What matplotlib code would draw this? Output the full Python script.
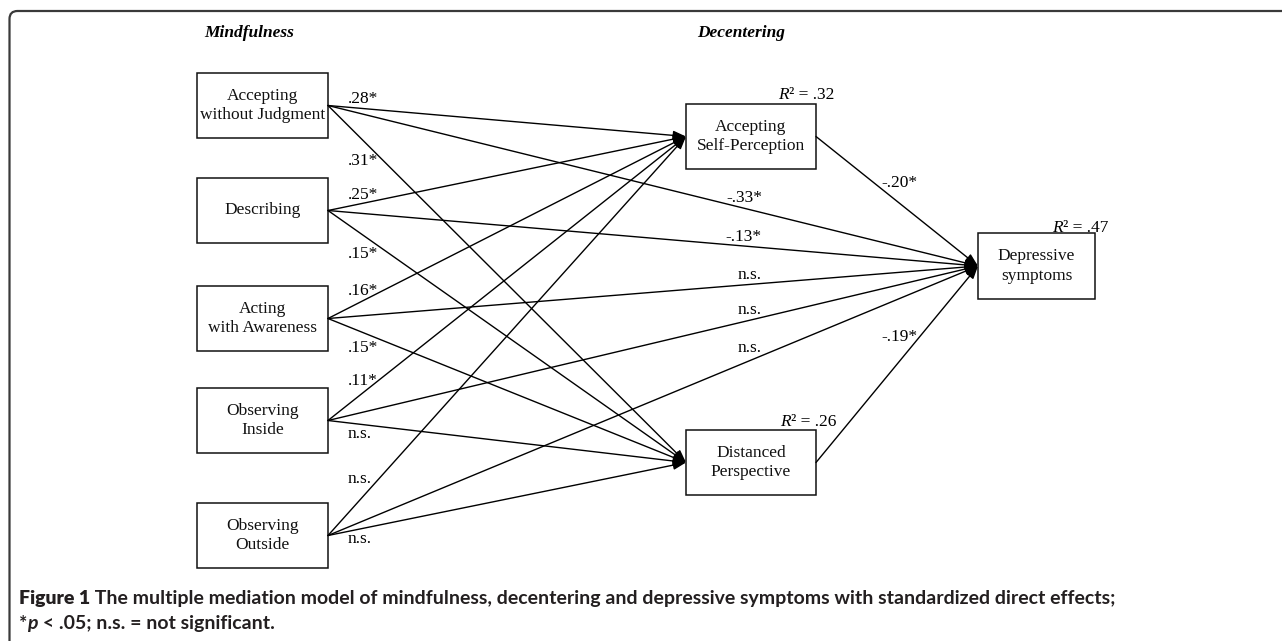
import matplotlib
matplotlib.use("Agg")
import matplotlib.pyplot as plt
from matplotlib.patches import Rectangle, PathPatch
from matplotlib.path import Path

# --- model content ---
mindfulness = ["Accepting\nwithout Judgment", "Describing", "Acting\nwith Awareness",
               "Observing\nInside", "Observing\nOutside"]
mediators = ["Accepting\nSelf-Perception", "Distanced\nPerspective"]
outcome = "Depressive\nsymptoms"

# standardized direct effects, one entry per mindfulness facet
to_asp = [".28*", ".25*", ".16*", ".11*", "n.s."]
to_dp = [".31*", ".15*", ".15*", "n.s.", "n.s."]
to_dep = ["-.33*", "-.13*", "n.s.", "n.s.", "n.s."]
med_to_dep = ["-.20*", "-.19*"]
r2_mediators = [".32", ".26"]
r2_outcome = ".47"

caption_bold = "Figure 1"
caption_rest = " The multiple mediation model of mindfulness, decentering and depressive symptoms with standardized direct effects;"
caption_note = " < .05; n.s. = not significant."

# --- layout (pixel space, y down) ---
W, H = 1282, 641
left_x, left_w, box_h = 197, 131, 65
left_tops = [73, 178, 286, 388, 503]
med_x, med_w = 686, 130
med_tops = [104, 430]
out_x, out_w, out_top, out_h = 978, 117, 233, 66

asp_lab_y = [99, 195, 291, 381, 479]
dp_lab_y = [161, 254, 348, 434, 539]
dep_lab_y = [198, 237, 275, 310, 348]
med_lab_y = [183, 337]

serif = "Liberation Serif"
fs = 12.5

fig = plt.figure(figsize=(W / 100, H / 100), dpi=100)
ax = fig.add_axes([0, 0, 1, 1])
ax.set_xlim(0, W)
ax.set_ylim(H, 0)
ax.axis("off")

# outer frame with rounded top-left corner
frame = Path([(9.5, H), (9.5, 19), (9.5, 11), (17.5, 11), (W, 11)],
             [Path.MOVETO, Path.LINETO, Path.CURVE3, Path.CURVE3, Path.LINETO])
ax.add_patch(PathPatch(frame, fill=False, lw=1.6, ec="#3a3a3a"))


def box(x, top, w, h, label):
    ax.add_patch(Rectangle((x, top), w, h, fill=False, lw=1.1, ec="#111111"))
    ax.text(x + w / 2, top + h / 2, label, ha="center", va="center",
            family=serif, fontsize=fs, linespacing=1.3, color="#111111")


def arrow(p0, p1):
    ax.annotate("", xy=p1, xytext=p0,
                arrowprops=dict(arrowstyle="-|>,head_length=0.55,head_width=0.2",
                                mutation_scale=14, lw=1.0, color="black",
                                shrinkA=0, shrinkB=0))


for i, lab in enumerate(mindfulness):
    box(left_x, left_tops[i], left_w, box_h, lab)
for i, lab in enumerate(mediators):
    box(med_x, med_tops[i], med_w, box_h, lab)
box(out_x, out_top, out_w, out_h, outcome)

asp_in = (med_x, med_tops[0] + box_h / 2)
dp_in = (med_x, med_tops[1] + box_h / 2)
dep_in = (out_x, out_top + out_h / 2)

for i in range(len(mindfulness)):
    start = (left_x + left_w, left_tops[i] + box_h / 2)
    arrow(start, asp_in)
    arrow(start, dp_in)
    arrow(start, dep_in)
    ax.text(348, asp_lab_y[i], to_asp[i], ha="left", va="center", family=serif, fontsize=fs)
    ax.text(348, dp_lab_y[i], to_dp[i], ha="left", va="center", family=serif, fontsize=fs)
    ax.text(762, dep_lab_y[i], to_dep[i], ha="right", va="center", family=serif, fontsize=fs)

for i in range(len(mediators)):
    arrow((med_x + med_w, med_tops[i] + box_h / 2), dep_in)
    ax.text(918, med_lab_y[i], med_to_dep[i], ha="right", va="center", family=serif, fontsize=fs)

fig.canvas.draw()
renderer = fig.canvas.get_renderer()


def runs(x, y, parts, **kw):
    for s, style in parts:
        t = ax.text(x, y, s, ha="left", va="baseline", **kw, **style)
        x += t.get_window_extent(renderer=renderer).width


# R-squared labels
r2_pos = [(778, 99), (780, 426), (1052, 232)]
for (x, y), val in zip(r2_pos, r2_mediators + [r2_outcome]):
    runs(x, y, [("R", dict(style="italic")), ("\u00b2 = " + val, {})],
         family=serif, fontsize=fs)

# column headings
ax.text(249, 33, "Mindfulness", ha="center", va="center", family=serif,
        fontsize=12.5, style="italic", weight="bold")
ax.text(741, 33, "Decentering", ha="center", va="center", family=serif,
        fontsize=12.5, style="italic", weight="bold")

# caption
cap = dict(family=["Lato", "DejaVu Sans"], fontsize=14, color="#231f20")
runs(19, 604, [(caption_bold, dict(weight="heavy")), (caption_rest, dict(weight="bold"))], **cap)
runs(19, 629, [("*", dict(weight="bold")), ("p", dict(weight="bold", style="italic")),
               (caption_note, dict(weight="bold"))], **cap)

fig.savefig("out.png", dpi=100)
